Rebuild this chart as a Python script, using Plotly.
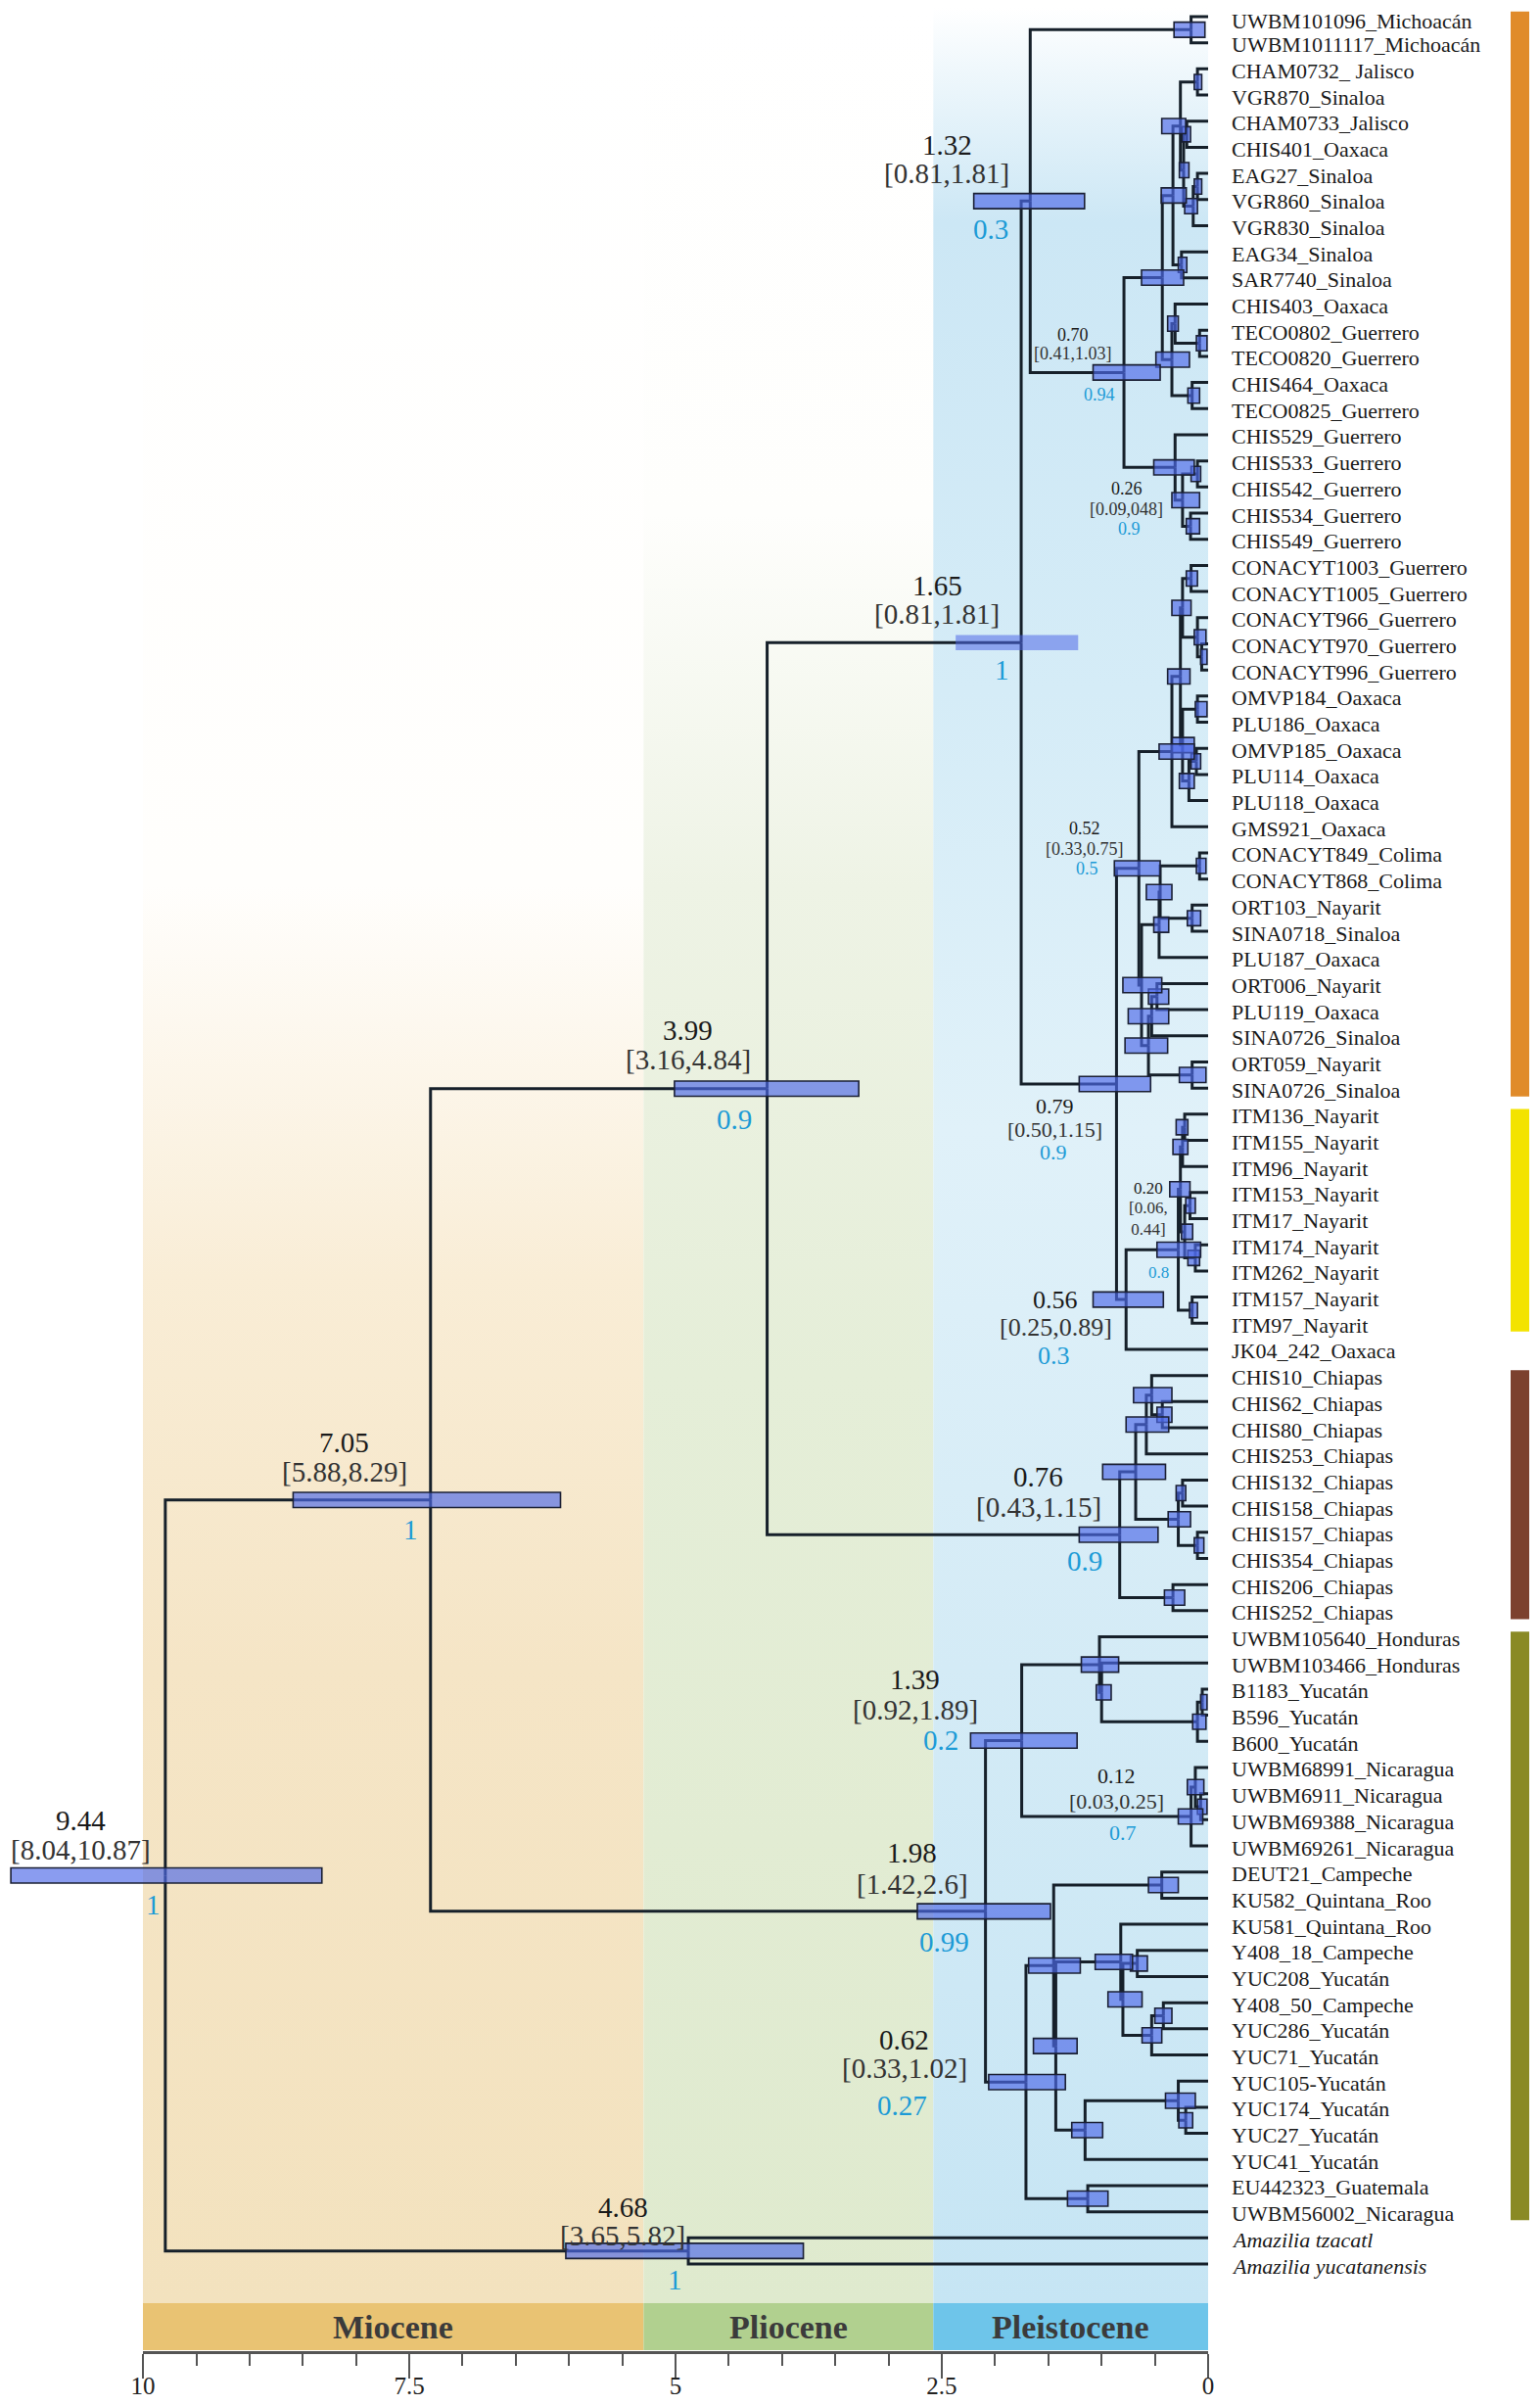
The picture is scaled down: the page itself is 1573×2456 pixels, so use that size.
import plotly.graph_objects as go

# ---------------- DATA ----------------
tip_labels = [
    "UWBM101096_Michoacán", "UWBM1011117_Michoacán", "CHAM0732_ Jalisco", "VGR870_Sinaloa",
    "CHAM0733_Jalisco", "CHIS401_Oaxaca", "EAG27_Sinaloa", "VGR860_Sinaloa", "VGR830_Sinaloa",
    "EAG34_Sinaloa", "SAR7740_Sinaloa", "CHIS403_Oaxaca", "TECO0802_Guerrero", "TECO0820_Guerrero",
    "CHIS464_Oaxaca", "TECO0825_Guerrero", "CHIS529_Guerrero", "CHIS533_Guerrero", "CHIS542_Guerrero",
    "CHIS534_Guerrero", "CHIS549_Guerrero", "CONACYT1003_Guerrero", "CONACYT1005_Guerrero",
    "CONACYT966_Guerrero", "CONACYT970_Guerrero", "CONACYT996_Guerrero", "OMVP184_Oaxaca",
    "PLU186_Oaxaca", "OMVP185_Oaxaca", "PLU114_Oaxaca", "PLU118_Oaxaca", "GMS921_Oaxaca",
    "CONACYT849_Colima", "CONACYT868_Colima", "ORT103_Nayarit", "SINA0718_Sinaloa", "PLU187_Oaxaca",
    "ORT006_Nayarit", "PLU119_Oaxaca", "SINA0726_Sinaloa", "ORT059_Nayarit", "SINA0726_Sinaloa",
    "ITM136_Nayarit", "ITM155_Nayarit", "ITM96_Nayarit", "ITM153_Nayarit", "ITM17_Nayarit",
    "ITM174_Nayarit", "ITM262_Nayarit", "ITM157_Nayarit", "ITM97_Nayarit", "JK04_242_Oaxaca",
    "CHIS10_Chiapas", "CHIS62_Chiapas", "CHIS80_Chiapas", "CHIS253_Chiapas", "CHIS132_Chiapas",
    "CHIS158_Chiapas", "CHIS157_Chiapas", "CHIS354_Chiapas", "CHIS206_Chiapas", "CHIS252_Chiapas",
    "UWBM105640_Honduras", "UWBM103466_Honduras", "B1183_Yucatán", "B596_Yucatán", "B600_Yucatán",
    "UWBM68991_Nicaragua", "UWBM6911_Nicaragua", "UWBM69388_Nicaragua", "UWBM69261_Nicaragua",
    "DEUT21_Campeche", "KU582_Quintana_Roo", "KU581_Quintana_Roo", "Y408_18_Campeche",
    "YUC208_Yucatán", "Y408_50_Campeche", "YUC286_Yucatán", "YUC71_Yucatán", "YUC105-Yucatán",
    "YUC174_Yucatán", "YUC27_Yucatán", "YUC41_Yucatán", "EU442323_Guatemala", "UWBM56002_Nicaragua",
    "Amazilia tzacatl", "Amazilia yucatanensis",
]
italic_tips = [86, 87]

# internal nodes: children (int = tip number, str = node), age (Ma), HPD young / old
node_names = ["MICH", "A", "B", "C78", "C", "Z", "W", "X1011", "U", "T1314", "V1", "T1516", "V", "P",
              "T1819", "S2021", "R", "Q", "N70", "N132",
              "G1", "T2526", "Ma", "GMa", "T2728", "T2930", "T31", "Mb", "K1a", "K1",
              "T3334", "T3536", "H1", "H2", "L1", "L2", "T4142", "L3", "K2", "N52",
              "I1", "I2", "T4647", "T4849", "I4", "I3", "T5051", "ITM", "N56", "N79", "N165",
              "T5455", "C5", "C2", "T5758", "T5960", "C3", "C1", "T6162", "N76", "N399",
              "T6566", "E4", "E3", "E1", "T6970", "E5", "E2", "N139",
              "T7273", "T7576", "T7778", "T79", "F5", "F4", "T8182", "G1b", "G2", "F3", "F1", "F2",
              "N062", "N198", "N705", "N468", "ROOT"]
node_children = [[1, 2], [3, 4], [5, 6], [7, 8], ["C78", 9], ["B", "C"], ["A", "Z"], [10, 11],
                 ["W", "X1011"], [13, 14], [12, "T1314"], [15, 16], ["V1", "T1516"], ["U", "V"],
                 [18, 19], [20, 21], ["T1819", "S2021"], [17, "R"], ["P", "Q"], ["MICH", "N70"],
                 [22, 23], [25, 26], [24, "T2526"], ["G1", "Ma"], [27, 28], [29, 30], ["T2930", 31],
                 ["T2728", "T31"], ["GMa", "Mb"], ["K1a", 32],
                 [33, 34], [35, 36], ["T3334", "T3536"], ["H1", 37], [38, 39], ["L1", 40], [41, 42],
                 ["L2", "T4142"], ["H2", "L3"], ["K1", "K2"],
                 [43, 44], ["I1", 45], [46, 47], [48, 49], ["T4647", "T4849"], ["I2", "I4"], [50, 51],
                 ["I3", "T5051"], ["ITM", 52], ["N52", "N56"], ["N132", "N79"],
                 [54, 55], [53, "T5455"], ["C5", 56], [57, 58], [59, 60], ["T5758", "T5960"],
                 ["C2", "C3"], [61, 62], ["C1", "T6162"], ["N165", "N76"],
                 [65, 66], ["T6566", 67], [64, "E4"], [63, "E3"], [69, 70], [68, "T6970"], ["E5", 71],
                 ["E1", "E2"],
                 [72, 73], [75, 76], [77, 78], ["T7778", 79], ["T7576", "T79"], [74, "F5"], [81, 82],
                 [80, "T8182"], ["G1b", 83], ["F4", "G2"], ["T7273", "F3"], [84, 85],
                 ["F1", "F2"], ["N139", "N062"], ["N399", "N198"], [86, 87], ["N705", "N468"]]
node_age = [0.16, 0.10, 0.20, 0.10, 0.14, 0.23, 0.26, 0.25, 0.33, 0.08, 0.31, 0.15, 0.34, 0.43,
            0.10, 0.165, 0.24, 0.31, 0.79, 1.67,
            0.16, 0.06, 0.10, 0.24, 0.10, 0.11, 0.18, 0.24, 0.26, 0.34,
            0.08, 0.15, 0.45, 0.46, 0.48, 0.53, 0.15, 0.56, 0.625, 0.65,
            0.22, 0.24, 0.17, 0.12, 0.22, 0.26, 0.15, 0.28, 0.77, 0.86, 1.755,
            0.43, 0.53, 0.58, 0.24, 0.10, 0.28, 0.68, 0.33, 0.83, 4.14,
            0.055, 0.10, 1.00, 1.02, 0.07, 0.12, 0.16, 1.75,
            0.435, 0.665, 0.42, 0.53, 0.80, 0.82, 0.21, 0.28, 1.155, 1.43, 1.45, 1.13,
            1.71, 2.09, 7.30, 4.88, 9.79]
node_hpd_young = [0.03, 0.06, 0.165, 0.06, 0.10, 0.18, 0.21, 0.20, 0.205, 0.01, 0.28, 0.08, 0.175, 0.23,
                  0.07, 0.08, 0.08, 0.13, 0.45, 1.16,
                  0.10, 0.01, 0.02, 0.16, 0.01, 0.07, 0.13, 0.13, 0.17, 0.13,
                  0.02, 0.07, 0.34, 0.37, 0.37, 0.37, 0.02, 0.38, 0.435, 0.45,
                  0.19, 0.19, 0.12, 0.08, 0.145, 0.17, 0.10, 0.07, 0.42, 0.54, 1.22,
                  0.34, 0.34, 0.37, 0.21, 0.04, 0.165, 0.40, 0.22, 0.47, 3.28,
                  0.01, 0.02, 0.91, 0.84, 0.01, 0.04, 0.05, 1.23,
                  0.28, 0.57, 0.34, 0.435, 0.62, 0.71, 0.145, 0.12, 0.99, 1.23, 1.20, 0.94,
                  1.34, 1.48, 6.08, 3.80, 8.32]
node_hpd_old = [0.32, 0.13, 0.245, 0.13, 0.22, 0.27, 0.435, 0.28, 0.44, 0.11, 0.38, 0.19, 0.49, 0.625,
                0.16, 0.205, 0.34, 0.51, 1.08, 2.20,
                0.205, 0.07, 0.13, 0.34, 0.12, 0.16, 0.27, 0.34, 0.38, 0.46,
                0.11, 0.195, 0.58, 0.51, 0.56, 0.75, 0.27, 0.78, 0.80, 0.88,
                0.30, 0.33, 0.21, 0.19, 0.25, 0.36, 0.175, 0.48, 1.08, 1.21, 2.37,
                0.48, 0.70, 0.77, 0.30, 0.13, 0.375, 0.99, 0.41, 1.21, 5.01,
                0.07, 0.145, 1.05, 1.19, 0.10, 0.195, 0.28, 2.23,
                0.56, 0.73, 0.50, 0.62, 0.94, 1.06, 0.275, 0.40, 1.28, 1.64, 1.685, 1.32,
                2.06, 2.73, 8.59, 6.03, 11.24]

# node annotations: mean age, 95% HPD, posterior
label_nodes = ["ROOT", "N705", "N399", "N468", "N198", "N062", "N139", "N76", "N56", "N79",
               "ITM", "N52", "R", "N70", "N132", "N165", "E2"]
label_age = ["9.44", "7.05", "3.99", "4.68", "1.98", "0.62", "1.39", "0.76", "0.56", "0.79",
             "0.20", "0.52", "0.26", "0.70", "1.32", "1.65", "0.12"]
label_hpd = ["[8.04,10.87]", "[5.88,8.29]", "[3.16,4.84]", "[3.65,5.82]", "[1.42,2.6]", "[0.33,1.02]",
             "[0.92,1.89]", "[0.43,1.15]", "[0.25,0.89]", "[0.50,1.15]", "[0.06,<br>0.44]",
             "[0.33,0.75]", "[0.09,048]", "[0.41,1.03]", "[0.81,1.81]", "[0.81,1.81]", "[0.03,0.25]"]
label_pp = ["1", "1", "0.9", "1", "0.99", "0.27", "0.2", "0.9", "0.3", "0.9",
            "0.8", "0.5", "0.9", "0.94", "0.3", "1", "0.7"]

epoch_names = ["Miocene", "Pliocene", "Pleistocene"]
epoch_old = [10.0, 5.3, 2.58]
epoch_young = [5.3, 2.58, 0.0]

clade_first_tip = [1, 43, 53, 63]
clade_last_tip = [42, 51, 62, 85]

axis_ticks = [10, 7.5, 5, 2.5, 0]
axis_tick_text = ["10", "7.5", "5", "2.5", "0"]

# ---------------- STYLE / LAYOUT ----------------
W, H = 1573, 2456
OFF = 8                                 # page body margin compensation (px)
PX0, PX_PER_MA = 146.0 - OFF, 108.8     # pixel of age 10, pixels per Ma
ROW0 = 17.0 - OFF                       # pixel of first tip
ROW = (2312.0 - 17.0) / 86              # row pitch
X_LEFT = 10 + PX0 / PX_PER_MA
X_RIGHT = X_LEFT - W / PX_PER_MA
Y_TOP = -ROW0 / ROW
Y_BOT = (H - ROW0) / ROW
BAND_TOP = (2352 - OFF - ROW0) / ROW
BAND_BOT = (2400 - OFF - ROW0) / ROW
AXIS_PX = 2402 - OFF

SERIF = "Liberation Serif, Times New Roman, serif"
LINE_COL = "#16202a"
BAR_FILL = "rgba(78,104,232,0.66)"
BAR_FILL_LIGHT = "rgba(78,104,232,0.55)"
BAR_LINE = "#1b2035"
BLUE_TXT = "#1d9bd6"

label_style = {  # node: (font size, dx, dy_age, dy_hpd, dx_pp, dy_pp) in pixels
    "ROOT": (29, -86, -56, -26, -12, 30), "N705": (29, -88, -59, -29, -20, 30),
    "N399": (29, -81, -60, -30, -34, 31), "N468": (29, -67, -45, -16, -14, 29),
    "N198": (29, -75, -60, -28, -42, 31), "N062": (29, -124, -43, -14, -126, 24),
    "N139": (29, -109, -62, -31, -83, 0), "N76": (29, -83, -59, -28, -36, 27),
    "N56": (26, -72, 0, 28, -74, 57), "N79": (22, -63, 23, 47, -64, 70),
    "ITM": (17, -31, -63, -32, -20, 23), "N52": (18, -55, -41, -20, -53, 0),
    "R": (18, -57, -12, 9, -54, 29), "N70": (18, -52, -38, -19, -25, 23),
    "N132": (29, -85, -57, -28, -40, 29), "N165": (29, -86, -58, -29, -20, 28),
    "E2": (22, -76, -42, -16, -70, 16),
}
no_outline = ["N165"]
TIP_FONT = 22
TIP_DY = 2                               # tip labels sit slightly below their branch
TOP_TIP_EXTRA_DY = 2                     # keep the first label inside the page

bg_scales = [
    [[0, "rgb(255,255,255)"], [900 / 2352, "rgb(255,254,252)"], [1300 / 2352, "rgb(249,237,214)"],
     [1700 / 2352, "rgb(245,229,198)"], [1, "rgb(243,226,190)"]],
    [[0, "rgb(255,255,255)"], [520 / 2352, "rgb(254,254,252)"], [900 / 2352, "rgb(238,243,229)"],
     [1400 / 2352, "rgb(229,238,216)"], [1, "rgb(223,234,206)"]],
    [[0, "rgb(255,255,255)"], [60 / 2352, "rgb(240,248,252)"], [220 / 2352, "rgb(204,231,245)"],
     [700 / 2352, "rgb(213,236,247)"], [1150 / 2352, "rgb(224,241,249)"],
     [1700 / 2352, "rgb(212,235,246)"], [1, "rgb(198,229,244)"]],
]
band_colors = ["#e9c373", "#b1d08f", "#6ec5ea"]
clade_colors = ["#e08b2a", "#f3e300", "#7c412e", "#8a8a25"]

# ---------------- BUILD ----------------
idx = {n: i for i, n in enumerate(node_names)}
ycache = {}


def gety(c):
    if isinstance(c, int):
        return float(c - 1)
    if c not in ycache:
        ch = node_children[idx[c]]
        ycache[c] = (gety(ch[0]) + gety(ch[-1])) / 2.0
    return ycache[c]


def getage(c):
    return 0.0 if isinstance(c, int) else node_age[idx[c]]


fig = go.Figure()

# epoch backgrounds with vertical gradient
for e in range(3):
    fig.add_trace(go.Scatter(
        x=[epoch_old[e], epoch_young[e], epoch_young[e], epoch_old[e], epoch_old[e]],
        y=[Y_TOP, Y_TOP, BAND_TOP, BAND_TOP, Y_TOP],
        mode="lines", line=dict(width=0), fill="toself",
        fillgradient=dict(type="vertical", colorscale=bg_scales[e], start=Y_TOP, stop=BAND_TOP),
        hoverinfo="skip", showlegend=False))

# tree branches
xs, ys = [], []
for i, n in enumerate(node_names):
    a = node_age[i]
    yn = gety(n)
    for c in node_children[i]:
        yc = gety(c)
        xs += [a, a, getage(c), None]
        ys += [yn, yc, yc, None]
fig.add_trace(go.Scatter(x=xs, y=ys, mode="lines", line=dict(color=LINE_COL, width=3),
                         hoverinfo="skip", showlegend=False))

# dummy trace for the time axis
fig.add_trace(go.Scatter(x=[10, 0], y=[-50, -50], xaxis="x2", yaxis="y", mode="markers",
                         marker=dict(opacity=0), hoverinfo="skip", showlegend=False))

shapes = []
# HPD bars
for i, n in enumerate(node_names):
    yn = gety(n)
    light = n in no_outline
    shapes.append(dict(type="rect", xref="x", yref="y", x0=node_hpd_old[i], x1=node_hpd_young[i],
                       y0=yn - 0.29, y1=yn + 0.29, fillcolor=BAR_FILL_LIGHT if light else BAR_FILL,
                       layer="above", line=dict(color=BAR_LINE, width=0 if light else 1.6)))
# epoch band
for e in range(3):
    shapes.append(dict(type="rect", xref="x", yref="y", x0=epoch_old[e], x1=epoch_young[e],
                       y0=BAND_TOP, y1=BAND_BOT, fillcolor=band_colors[e], line=dict(width=0),
                       layer="below"))
# clade colour bars on right
for j in range(4):
    shapes.append(dict(type="rect", xref="paper", yref="y", x0=(1543 - OFF) / W, x1=(1562 - OFF) / W,
                       y0=clade_first_tip[j] - 1 - 0.2, y1=clade_last_tip[j] - 1 + 0.32,
                       fillcolor=clade_colors[j], line=dict(width=0)))

ann = []
# tip labels
for k, lab in enumerate(tip_labels):
    t = "<i>%s</i>" % lab if (k + 1) in italic_tips else lab
    dy = TIP_DY + (TOP_TIP_EXTRA_DY if k == 0 else 0)
    ann.append(dict(x=0, y=k, xref="x", yref="y", text=t, showarrow=False, xanchor="left",
                    yanchor="middle", xshift=22, yshift=-dy,
                    font=dict(family=SERIF, size=TIP_FONT, color="#1a1a1a")))
# node labels
for j, n in enumerate(label_nodes):
    fs, dx, dya, dyh, dxp, dyp = label_style[n]
    a, yn = node_age[idx[n]], gety(n)
    ann.append(dict(x=a, y=yn, xref="x", yref="y", text=label_age[j], showarrow=False,
                    xanchor="center", yanchor="middle", xshift=dx, yshift=-dya,
                    font=dict(family=SERIF, size=fs, color="#1a1a1a")))
    ann.append(dict(x=a, y=yn, xref="x", yref="y", text=label_hpd[j], showarrow=False,
                    xanchor="center", yanchor="middle", xshift=dx, yshift=-dyh,
                    font=dict(family=SERIF, size=fs, color="#333333")))
    ann.append(dict(x=a, y=yn, xref="x", yref="y", text=label_pp[j], showarrow=False,
                    xanchor="center", yanchor="middle", xshift=dxp, yshift=-dyp,
                    font=dict(family=SERIF, size=fs, color=BLUE_TXT)))
# epoch names
for e in range(3):
    ann.append(dict(x=(epoch_old[e] + epoch_young[e]) / 2, y=(BAND_TOP + BAND_BOT) / 2, xref="x", yref="y",
                    text="<b>%s</b>" % epoch_names[e], showarrow=False, xanchor="center",
                    yanchor="middle", font=dict(family=SERIF, size=34, color="#3b3b3b")))

fig.update_layout(
    template="none",
    width=W, height=H, margin=dict(l=0, r=0, t=0, b=0, pad=0, autoexpand=False),
    paper_bgcolor="white", plot_bgcolor="rgba(0,0,0,0)", showlegend=False,
    xaxis=dict(range=[X_LEFT, X_RIGHT], visible=False, domain=[0, 1], automargin=False),
    yaxis=dict(range=[Y_BOT, Y_TOP], visible=False, domain=[0, 1], automargin=False),
    xaxis2=dict(range=[10.001, -0.001], domain=[PX0 / W, (PX0 + 10 * PX_PER_MA) / W],
                anchor="free", position=(H - AXIS_PX) / H, side="bottom", automargin=False,
                showline=True, linewidth=3, linecolor="#555555", showgrid=False, zeroline=False,
                tickmode="array", tickvals=axis_ticks, ticktext=axis_tick_text,
                ticks="outside", ticklen=25, tickwidth=2, tickcolor="#555555",
                ticklabelstandoff=-14,
                minor=dict(tickmode="linear", tick0=0, dtick=0.5, ticks="outside", ticklen=12,
                           tickwidth=2, tickcolor="#555555", showgrid=False),
                tickfont=dict(family=SERIF, size=25, color="#222222")),
    shapes=shapes, annotations=ann,
)

fig.write_html("out.html")
